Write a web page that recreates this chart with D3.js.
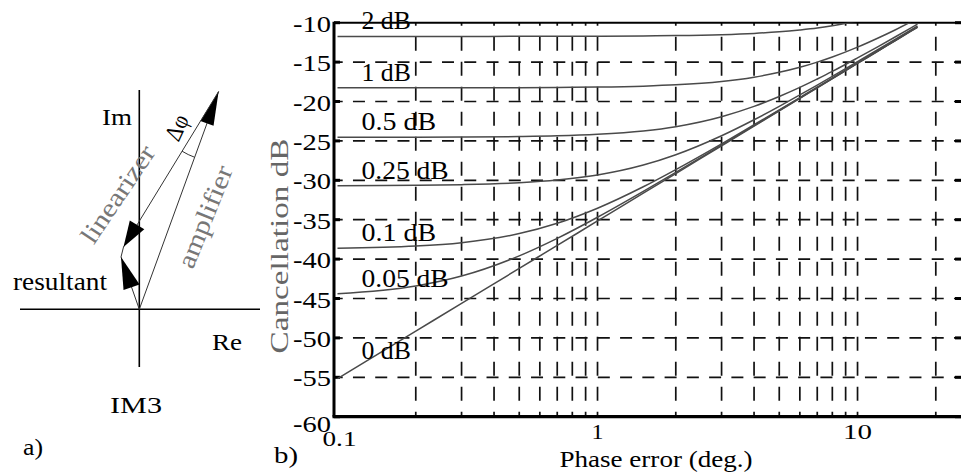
<!DOCTYPE html>
<html><head><meta charset="utf-8">
<script src="https://cdn.jsdelivr.net/npm/d3@7"></script>
<style>
body{margin:0;background:#fff}
svg{display:block}
text{font-family:"Liberation Serif","Times New Roman",Times,serif}
</style>
</head><body>
<svg id="c" width="961" height="475"></svg>
<script>
// ---------- data ----------
const phase = [0.1, 0.2, 0.3, 0.5, 0.7, 1, 1.5, 2, 3, 4, 5, 6, 7, 8, 10, 12, 14, 16, 17];
const seriesNames = ["2 dB", "1 dB", "0.5 dB", "0.25 dB", "0.1 dB", "0.05 dB", "0 dB"];
const c2dB   = [-11.74,-11.74,-11.74,-11.73,-11.73,-11.71,-11.68,-11.64,-11.52,-11.36,-11.16,-10.92,-10.67,-10.38,-9.78,null,null,null,null];
const c1dB   = [-18.27,-18.27,-18.26,-18.25,-18.22,-18.17,-18.05,-17.89,-17.46,-16.91,-16.30,-15.66,-15.00,-14.35,-13.10,-11.94,-10.89,-9.92,null];
const c05dB  = [-24.54,-24.53,-24.51,-24.45,-24.36,-24.16,-23.73,-23.19,-21.93,-20.62,-19.36,-18.21,-17.14,-16.18,-14.47,-13.03,-11.78,-10.68,-10.17];
const c025dB = [-30.68,-30.63,-30.55,-30.31,-29.97,-29.33,-28.07,-26.76,-24.35,-22.32,-20.61,-19.16,-17.91,-16.80,-14.93,-13.39,-12.08,-10.94,-10.42];
const c01dB  = [-38.63,-38.35,-37.91,-36.76,-35.45,-33.54,-30.82,-28.64,-25.37,-22.95,-21.06,-19.50,-18.18,-17.03,-15.10,-13.53,-12.20,-11.05,-10.53];
const c005dB = [-44.39,-43.41,-42.15,-39.59,-37.37,-34.69,-31.41,-29.00,-25.54,-23.07,-21.14,-19.57,-18.23,-17.08,-15.14,-13.57,-12.23,-11.08,-10.56];
const c0dB   = [-55.16,-49.14,-45.62,-41.18,-38.26,-35.16,-31.64,-29.14,-25.62,-23.12,-21.19,-19.60,-18.27,-17.11,-15.17,-13.60,-12.26,-11.11,-10.58];
const seriesValues = [c2dB, c1dB, c05dB, c025dB, c01dB, c005dB, c0dB];

const yTicks = [-10, -15, -20, -25, -30, -35, -40, -45, -50, -55, -60];
const yGrid = [-15, -20, -25, -30, -35, -40, -45, -50, -55];
const xTickLabels = [0.1, 1, 10];
const xGrid = [0.2,0.3,0.4,0.5,0.6,0.7,0.8,0.9,1,2,3,4,5,6,7,8,9,10,20];
const xTitle = "Phase error (deg.)";
const yTitle = "Cancellation dB";

// phasor diagram (panel a) labels
const diagramLabels = {im: "Im", re: "Re", im3: "IM3", resultant: "resultant", linearizer: "linearizer", amplifier: "amplifier", dphi: "\u0394\u03C6", a: "a)", b: "b)"};

(function () {
// ---------- layout ----------
const svg = d3.select("#c");
const pL = 334, pR = 962, pT = 22.7, pB = 416.7;
const x = d3.scaleLog().domain([0.1, 25]).range([337.5, 961]);
const y = d3.scaleLinear().domain([-60, -10]).range([pB, pT]);

function txt(g, s, px, py, size, o = {}) {
  const t = g.append("text").attr("x", px).attr("y", py)
    .attr("font-size", size).attr("fill", o.fill || "#000")
    .attr("font-family", "Liberation Serif, Times New Roman, serif")
    .attr("text-anchor", o.anchor || "start").text(s);
  if (o.len) t.attr("textLength", o.len).attr("lengthAdjust", "spacingAndGlyphs");
  if (o.transform) t.attr("transform", o.transform);
  return t;
}

// grid
const grid = svg.append("g");
grid.selectAll("line.h").data(yGrid).join("line")
  .attr("x1", pL).attr("x2", pR).attr("y1", d => y(d)).attr("y2", d => y(d))
  .attr("stroke", "#111").attr("stroke-width", 1.7)
  .attr("stroke-dasharray", "12,10.26").attr("stroke-dashoffset", 3.3);
grid.selectAll("line.v").data(xGrid).join("line")
  .attr("x1", d => x(d)).attr("x2", d => x(d)).attr("y1", pB).attr("y2", pT)
  .attr("stroke", "#111").attr("stroke-width", 1.7)
  .attr("stroke-dasharray", "14,11").attr("stroke-dashoffset", 9);

// frame
const fr = svg.append("g").attr("stroke", "#000");
fr.append("line").attr("x1", pL).attr("x2", pR).attr("y1", pT).attr("y2", pT).attr("stroke-width", 2);
fr.append("line").attr("x1", pL - 1.5).attr("x2", pR).attr("y1", pB).attr("y2", pB).attr("stroke-width", 3.2);
fr.append("line").attr("x1", pL).attr("x2", pL).attr("y1", pT - 1).attr("y2", pB).attr("stroke-width", 3);
fr.selectAll("line.tl").data(yTicks).join("line")
  .attr("x1", pL).attr("x2", pL + 6).attr("y1", d => y(d)).attr("y2", d => y(d)).attr("stroke-width", 3);
fr.selectAll("line.tr").data(yTicks).join("line")
  .attr("x1", pR - 7).attr("x2", pR).attr("y1", d => y(d)).attr("y2", d => y(d)).attr("stroke-width", 3);

// y tick labels
const yl = svg.append("g");
yTicks.forEach(d => {
  const off = d === -60 ? 15 : 9;
  txt(yl, String(d), 331, y(d) + off, 24, {anchor: "end", len: 38});
});
// x tick labels
xTickLabels.forEach(d => {
  const s = String(d);
  txt(svg, s, x(d) + (s.length === 3 ? 2 : 0), s.length === 3 ? 446 : 439, 22, {anchor: "middle", len: s.length === 3 ? 34 : (s.length === 2 ? 29 : 12)});
});
txt(svg, xTitle, 656, 467, 24, {anchor: "middle", len: 193});
txt(svg, yTitle, 0, 0, 26, {anchor: "middle", len: 215, fill: "#666", transform: "translate(288,246) rotate(-90)"});
txt(svg, diagramLabels.b, 274, 463, 24, {len: 24});

// curves
svg.append("clipPath").attr("id", "clip").append("rect")
  .attr("x", pL).attr("y", pT).attr("width", pR - pL).attr("height", pB - pT);
const line = d3.line().defined(d => d[1] !== null).x(d => x(d[0])).y(d => y(d[1])).curve(d3.curveMonotoneX);
const cg = svg.append("g").attr("clip-path", "url(#clip)");
seriesValues.forEach(vals => {
  cg.append("path").datum(phase.map((p, j) => [p, vals[j]]))
    .attr("d", line).attr("fill", "none").attr("stroke", "#4a4a4a").attr("stroke-width", 1.5);
});
// curve labels
const lg = svg.append("g");
seriesNames.forEach((n, i) => {
  const v0 = seriesValues[i][0];
  const off = i === seriesNames.length - 1 ? 20 : 7;
  txt(lg, n, x(0.1) + 24, y(v0) - off, 25, {len: n.length * 12.6 - 1});
});

// ---------- panel a: phasor diagram ----------
const O = [139.3, 309.3];   // origin
const A = [218.6, 91.5];    // amplifier tip
const L = [123.5, 247];     // linearizer tip
const R = [121, 257];       // resultant tip
const dg = svg.append("g");
dg.append("line").attr("x1", O[0]).attr("x2", O[0]).attr("y1", 90).attr("y2", 367).attr("stroke", "#000").attr("stroke-width", 1.6);
dg.append("line").attr("x1", 20).attr("x2", 260).attr("y1", O[1]).attr("y2", O[1]).attr("stroke", "#000").attr("stroke-width", 1.6);
function vec(p, q, len, hw, sw) {
  dg.append("line").attr("x1", p[0]).attr("y1", p[1]).attr("x2", q[0]).attr("y2", q[1])
    .attr("stroke", "#333").attr("stroke-width", sw);
  const dx = q[0] - p[0], dy = q[1] - p[1], n = Math.hypot(dx, dy);
  const ux = dx / n, uy = dy / n;
  const bx = q[0] - ux * len, by = q[1] - uy * len;
  dg.append("path").attr("d", `M${q[0]},${q[1]}L${bx - uy * hw},${by + ux * hw}L${bx + uy * hw},${by - ux * hw}Z`).attr("fill", "#000");
}
vec(O, A, 34, 7, 1);
vec(A, L, 26, 8.5, 1);
vec(O, R, 32, 8.5, 1);
dg.append("path").attr("d", `M${L[0]},${L[1]}L${R[0]},${R[1]}`).attr("stroke", "#333").attr("stroke-width", 1);
const ang1 = Math.atan2(L[1] - A[1], L[0] - A[0]), ang2 = Math.atan2(O[1] - A[1], O[0] - A[0]);
const rr = 70;
dg.append("path").attr("d", `M${A[0] + rr * Math.cos(ang1)},${A[1] + rr * Math.sin(ang1)} A${rr},${rr} 0 0 0 ${A[0] + rr * Math.cos(ang2)},${A[1] + rr * Math.sin(ang2)}`)
  .attr("fill", "none").attr("stroke", "#333").attr("stroke-width", 1);

txt(dg, diagramLabels.im, 102, 125, 24, {len: 30});
txt(dg, diagramLabels.re, 212, 350, 24, {len: 30});
txt(dg, diagramLabels.im3, 110, 413, 24, {len: 52});
txt(dg, diagramLabels.resultant, 13, 290, 25, {len: 94});
txt(dg, diagramLabels.linearizer, 0, 0, 26, {anchor: "middle", len: 112, fill: "#777", transform: "translate(125,199) rotate(-56)"});
txt(dg, diagramLabels.amplifier, 0, 0, 26, {anchor: "middle", len: 108, fill: "#777", transform: "translate(213,220) rotate(-68)"});
txt(dg, diagramLabels.dphi, 0, 0, 24, {anchor: "middle", len: 26, transform: "translate(184,131) rotate(-65)"});
txt(dg, diagramLabels.a, 23, 455, 24, {len: 20});
})();
</script>
</body></html>
